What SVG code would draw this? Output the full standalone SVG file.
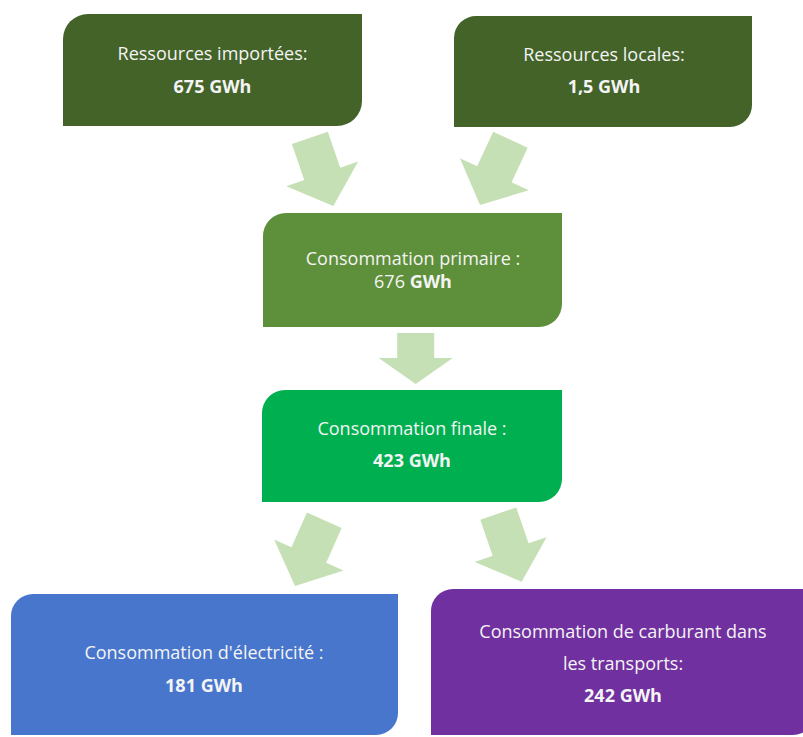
<svg xmlns="http://www.w3.org/2000/svg" width="803" height="737" viewBox="0 0 803 737">
<style>
  text { font-family: "Open Sans", "Liberation Sans", sans-serif; font-size: 18px; fill: #f4f4f4; text-anchor: middle; }
  .b { font-weight: bold; }
  .arrow { fill: #c5e0b4; }
</style>
<defs>
  <path id="arrowLong" d="M-19,-72 H19 V-34 H38 L0,0 L-38,-34 H-19 Z"/>
  <path id="arrowShort" d="M-18.5,-51 H18.5 V-26 H37 L0,0 L-37,-26 H-18.5 Z"/>
</defs>
<rect width="803" height="737" fill="#ffffff"/>
<g id="connectors" class="arrow">
  <use href="#arrowLong" transform="translate(333.3,206) rotate(-19)"/>
  <use href="#arrowLong" transform="translate(480,205) rotate(25)"/>
  <use href="#arrowShort" transform="translate(415.7,384)"/>
  <use href="#arrowLong" transform="translate(295,586) rotate(24)"/>
  <use href="#arrowLong" transform="translate(521.7,581.7) rotate(-19)"/>
</g>
<g id="node-importees">
  <path d="M88,14 H362 V101 A25,25 0 0 1 337,126 H63 V39 A25,25 0 0 1 88,14 Z" fill="#436329"/>
  <text x="212.5" y="60">Ressources importées:</text>
  <text x="212.5" y="93" class="b">675 GWh</text>
</g>
<g id="node-locales">
  <path d="M477,16 H752 V105 A22,22 0 0 1 730,127 H454 V38 A22,22 0 0 1 477,16 Z" fill="#436329"/>
  <text x="604" y="61">Ressources locales:</text>
  <text x="604" y="93" class="b">1,5 GWh</text>
</g>
<g id="node-primaire">
  <path d="M286,213 H562 V304 A23,23 0 0 1 539,327 H263 V236 A23,23 0 0 1 286,213 Z" fill="#5e8f3a"/>
  <text x="413" y="265">Consommation primaire :</text>
  <text x="413" y="288">676 <tspan class="b">GWh</tspan></text>
</g>
<g id="node-finale">
  <path d="M285,390 H562 V479 A23,23 0 0 1 539,502 H262 V413 A23,23 0 0 1 285,390 Z" fill="#00b050"/>
  <text x="412" y="435">Consommation finale :</text>
  <text x="412" y="467" class="b">423 GWh</text>
</g>
<g id="node-electricite">
  <path d="M33,594 H398 V713 A22,22 0 0 1 376,735 H11 V616 A22,22 0 0 1 33,594 Z" fill="#4876cc"/>
  <text x="204" y="659">Consommation d'électricité :</text>
  <text x="204" y="692" class="b">181 GWh</text>
</g>
<g id="node-carburant">
  <path d="M453,589 H815 V713 A22,22 0 0 1 793,735 H431 V611 A22,22 0 0 1 453,589 Z" fill="#7030a0"/>
  <text x="623" y="638">Consommation de carburant dans</text>
  <text x="623" y="670">les transports:</text>
  <text x="623" y="702" class="b">242 GWh</text>
</g>
</svg>
